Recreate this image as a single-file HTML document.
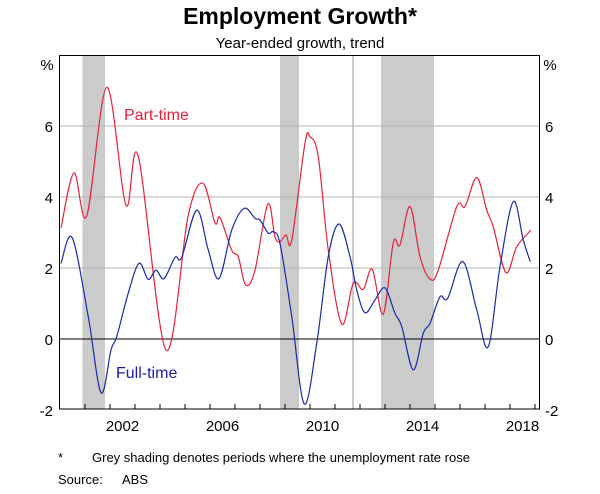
<!DOCTYPE html>
<html><head><meta charset="utf-8"><style>
body{margin:0;background:#fff;font-family:"Liberation Sans",Arial,sans-serif;}
svg text{font-family:"Liberation Sans",Arial,sans-serif;}
</style></head><body>
<svg id="chart" width="600" height="489" viewBox="0 0 600 489" xmlns="http://www.w3.org/2000/svg">
<text x="300" y="24" text-anchor="middle" font-size="23" font-weight="bold">Employment Growth*</text>
<text x="300" y="48" text-anchor="middle" font-size="15">Year-ended growth, trend</text>
<g id="shades"></g>
<g id="grid"></g>
<g id="series"></g>
<rect x="59.5" y="55.5" width="480" height="353.5" fill="none" stroke="#000" stroke-width="1"/>
<g id="axes"></g>
<text x="47" y="70" text-anchor="middle" font-size="15">%</text>
<text x="550" y="70" text-anchor="middle" font-size="15">%</text>
<text x="124" y="120" font-size="16" fill="#e8213b">Part-time</text>
<text x="116" y="378" font-size="16" fill="#1a1aa8">Full-time</text>
<text x="58" y="462" font-size="13">*</text>
<text x="92" y="462" font-size="13">Grey shading denotes periods where the unemployment rate rose</text>
<text x="58" y="484" font-size="13">Source:</text>
<text x="122" y="484" font-size="13">ABS</text>
</svg>
<script>
const yTicks=[-2,0,2,4,6];
const xLabels=[2002,2006,2010,2014,2018];
const shadeStarts=[2000.9,2008.8,2011.68,2012.84];
const shadeEnds=[2001.8,2009.56,2011.76,2014.96];
const ptYears=[2000.04,2000.56,2001.07,2001.87,2002.64,2003.13,2004.24,2005.12,2005.71,2006.2,2006.4,2006.87,2007.13,2007.43,2007.8,2008.31,2008.6,2008.8,2009.04,2009.27,2009.8,2010.0,2010.33,2010.73,2011.27,2011.73,2012.13,2012.49,2012.93,2013.33,2013.6,2014.0,2014.4,2014.8,2015.13,2015.87,2016.2,2016.67,2017.07,2017.33,2017.84,2018.27,2018.84];
const ptValues=[3.13,4.68,3.47,7.09,3.77,5.15,-0.31,3.45,4.39,3.27,3.42,2.5,2.32,1.52,1.94,3.8,2.88,2.74,2.93,2.79,5.52,5.7,5.14,2.51,0.42,1.57,1.4,1.96,0.7,2.71,2.65,3.73,2.32,1.69,1.94,3.73,3.73,4.55,3.63,3.16,1.87,2.6,3.07];
const ftYears=[2000.04,2000.49,2001.13,2001.64,2002.04,2002.27,2002.73,2003.16,2003.53,2003.84,2004.16,2004.6,2004.87,2005.47,2005.93,2006.36,2006.87,2007.37,2007.8,2008.0,2008.33,2008.53,2008.8,2009.27,2009.77,2010.27,2010.73,2011.16,2011.6,2011.87,2012.2,2012.6,2013.0,2013.4,2013.67,2014.13,2014.53,2014.8,2015.2,2015.51,2016.11,2016.67,2017.13,2017.6,2018.13,2018.53,2018.81];
const ftValues=[2.13,2.85,0.63,-1.51,-0.31,0.07,1.29,2.13,1.68,1.94,1.7,2.3,2.3,3.63,2.51,1.7,3.07,3.68,3.4,3.35,2.98,3.02,2.69,0.63,-1.83,-0.12,2.32,3.24,2.32,1.38,0.74,1.1,1.44,0.72,0.35,-0.87,0.16,0.44,1.19,1.15,2.18,0.82,-0.22,2.04,3.87,2.79,2.18];
const NS='http://www.w3.org/2000/svg';
const X=t=>85+(t-2001)*25;
const Y=v=>339-35.5*v;
const L=59.5,R=539.5,T=55.5,B=409;
function mk(tag,attrs,parent){const e=document.createElementNS(NS,tag);for(const k in attrs)e.setAttribute(k,attrs[k]);document.getElementById(parent).appendChild(e);return e;}
for(let i=0;i<shadeStarts.length;i++){
  const r=mk('rect',{x:X(shadeStarts[i]),y:T,width:X(shadeEnds[i])-X(shadeStarts[i]),height:B-T,fill:'#cbcbcb'},'shades');
  
  
}
yTicks.forEach(v=>{
  if(v>-2){const g=mk('line',{x1:L,x2:R,y1:Y(v),y2:Y(v),stroke:v===0?'#000':'#b5b5b5','stroke-width':1},'grid');
  
  }
  const a=mk('text',{x:53,y:Y(v)+6,'text-anchor':'end','font-size':15},'axes');a.textContent=v;
  
  
  const b=mk('text',{x:545,y:Y(v)+6,'text-anchor':'start','font-size':15},'axes');b.textContent=v;
  
  
});
for(let yr=2001;yr<=2019;yr++){
  const t=mk('line',{x1:X(yr),x2:X(yr),y1:B,y2:B-5,stroke:'#000','stroke-width':1},'axes');
  
  
}
xLabels.forEach(yr=>{
  const t=mk('text',{x:X(yr+0.5),y:431,'text-anchor':'middle','font-size':15},'axes');t.textContent=yr;
  
  
});
function path(xs,vs){
  const p=xs.map((x,i)=>[X(x),Y(vs[i])]);
  let d='M'+p[0][0]+','+p[0][1];
  for(let i=0;i<p.length-1;i++){
    const p0=p[i-1]||p[i],p1=p[i],p2=p[i+1],p3=p[i+2]||p2;
    const c1=[p1[0]+(p2[0]-p0[0])/6,p1[1]+(p2[1]-p0[1])/6];
    const c2=[p2[0]-(p3[0]-p1[0])/6,p2[1]-(p3[1]-p1[1])/6];
    d+=' C'+c1+' '+c2+' '+p2;
  }
  return d;
}
const pl=mk('path',{d:path(ptYears,ptValues),fill:'none',stroke:'#e8213b','stroke-width':1.2},'series');


const fl=mk('path',{d:path(ftYears,ftValues),fill:'none',stroke:'#1a2aa8','stroke-width':1.2},'series');


</script>
</body></html>
